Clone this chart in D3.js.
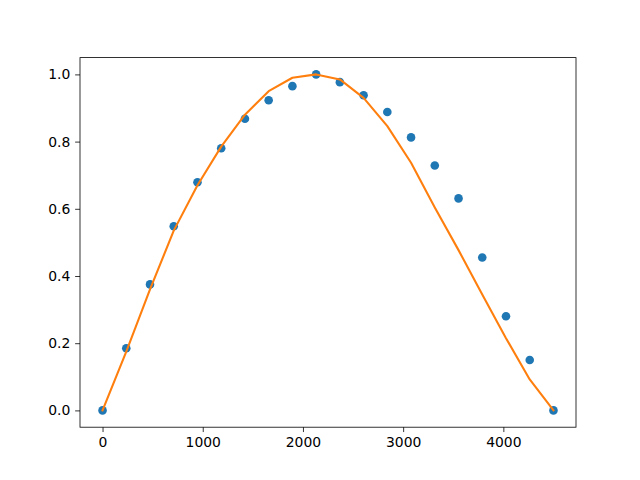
<!DOCTYPE html>
<html><head><meta charset="utf-8">
<script src="https://cdn.jsdelivr.net/npm/d3@7"></script>
<style>body{margin:0;background:#fff}svg{display:block}</style>
</head><body>
<svg id="c" width="640" height="480"></svg>
<script>
const xValues = [0, 236.84, 473.68, 710.53, 947.37, 1184.21, 1421.05, 1657.89, 1894.74, 2131.58,
  2368.42, 2605.26, 2842.11, 3078.95, 3315.79, 3552.63, 3789.47, 4026.32, 4263.16, 4500];
const dotValues = [0, 0.185, 0.375, 0.548, 0.679, 0.780, 0.868, 0.923, 0.965, 1.0,
  0.977, 0.938, 0.888, 0.8125, 0.729, 0.631, 0.455, 0.280, 0.150, 0];
const lineValues = [0, 0.175, 0.36, 0.535, 0.67, 0.785, 0.88, 0.95, 0.99, 1.0,
  0.985, 0.93, 0.846, 0.737, 0.604, 0.477, 0.345, 0.215, 0.092, 0];
const xTicks = [0, 1000, 2000, 3000, 4000];
const yTicks = [0, 0.2, 0.4, 0.6, 0.8, 1.0];

const L = 80, R = 576, T = 57.6, B = 427.2;
const svg = d3.select("#c");
const x = d3.scaleLinear().domain([-225, 4725]).range([L, R]);
const y = d3.scaleLinear().domain([-0.05, 1.05]).range([B, T]);
const font = "DejaVu Sans, sans-serif";

svg.selectAll("circle.dot").data(xValues).enter().append("circle")
  .attr("cx", (d) => x(d)).attr("cy", (d, i) => y(dotValues[i]))
  .attr("r", 4.3).attr("fill", "#1f77b4");

const line = d3.line().x((d) => x(d)).y((d, i) => y(lineValues[i]));
svg.append("path").datum(xValues).attr("d", line)
  .attr("fill", "none").attr("stroke", "#ff7f0e").attr("stroke-width", 2.08)
  .attr("stroke-linejoin", "round").attr("stroke-linecap", "square");

const xa = svg.append("g").attr("transform", `translate(0,${B})`)
  .call(d3.axisBottom(x).tickValues(xTicks).tickFormat(d3.format("d")).tickSizeOuter(0).tickSize(4.86).tickPadding(4.9));
const ya = svg.append("g").attr("transform", `translate(${L},0)`)
  .call(d3.axisLeft(y).tickValues(yTicks).tickFormat(d3.format(".1f")).tickSizeOuter(0).tickSize(4.86).tickPadding(4.9));
[xa, ya].forEach(a => {
  a.select(".domain").remove();
  a.selectAll("line").attr("stroke", "#000").attr("stroke-width", 0.8);
  a.selectAll("text").attr("font-family", font).attr("font-size", 13.9).attr("fill", "#000");
});

svg.append("rect").attr("x", L).attr("y", T).attr("width", R - L).attr("height", B - T)
  .attr("fill", "none").attr("stroke", "#000").attr("stroke-width", 0.8);
</script>
</body></html>
